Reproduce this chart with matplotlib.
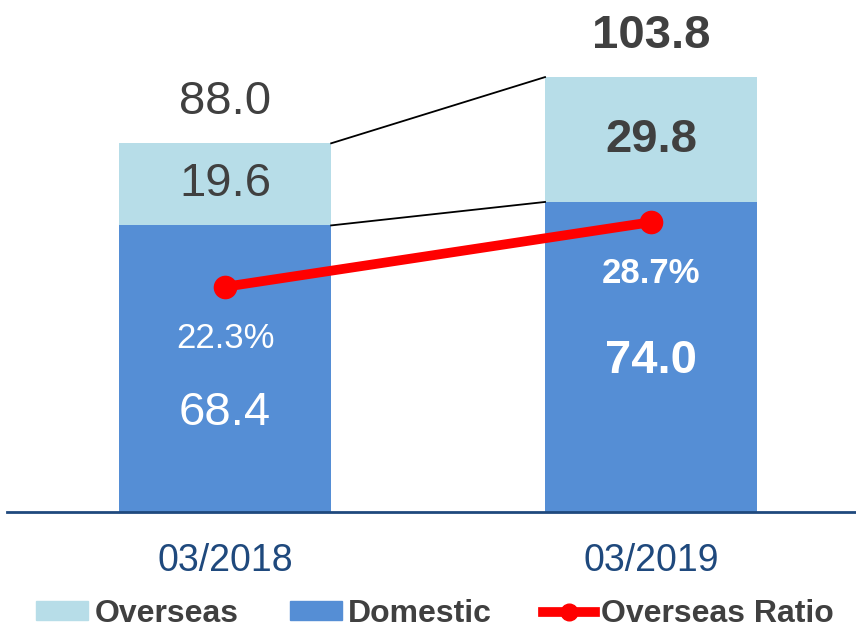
import matplotlib
matplotlib.use("Agg")
import matplotlib.pyplot as plt
from matplotlib.lines import Line2D
from matplotlib.patches import Patch

plt.rcParams['font.family'] = ['Liberation Sans', 'DejaVu Sans']

categories = ["03/2018", "03/2019"]
domestic = [68.4, 74.0]
overseas = [19.6, 29.8]
totals = [88.0, 103.8]
ratio = [22.3, 28.7]

C_OVER = "#B7DDE8"
C_DOM = "#558ED5"
C_RED = "#FF0000"
C_TXT = "#404040"
C_AX = "#1F497D"

fig = plt.figure(figsize=(8.56, 6.3), dpi=100)
ax = fig.add_axes([7/856, 118/630, 849/856, 512/630])
x = list(range(len(categories)))
w = 0.498
ax.bar(x, domestic, width=w, color=C_DOM, zorder=2)
ax.bar(x, overseas, width=w, bottom=domestic, color=C_OVER, zorder=2)
ax.set_xlim(-0.512, 1.481)
ax.set_ylim(0, 122.2)

# connector lines
ax.plot([x[0] + w/2, x[1] - w/2], [totals[0], totals[1]], color="black", lw=1.3, zorder=3)
ax.plot([x[0] + w/2, x[1] - w/2], [domestic[0], domestic[1]], color="black", lw=1.3, zorder=3)

for s in ["top", "right", "left"]:
    ax.spines[s].set_visible(False)
ax.spines["bottom"].set_color(C_AX)
ax.spines["bottom"].set_linewidth(2)
ax.set_yticks([])
ax.set_xticks(x)
ax.set_xticklabels(categories, fontsize=27, color=C_AX)
ax.tick_params(axis="x", length=0, pad=22)

# labels
bold = [False, True]
dom_label_y = [23.6, 36.0]
for i in x:
    fw = "bold" if bold[i] else "normal"
    ax.text(i, totals[i] + 9.8, f"{totals[i]:.1f}", ha="center", va="center",
            fontsize=34, color=C_TXT, fontweight=fw, zorder=5)
    ax.text(i, domestic[i] + overseas[i] / 2, f"{overseas[i]:.1f}", ha="center", va="center",
            fontsize=34, color=C_TXT, fontweight=fw, zorder=5)
    ax.text(i, dom_label_y[i], f"{domestic[i]:.1f}", ha="center", va="center",
            fontsize=34, color="white", fontweight=fw, zorder=5)

ax2 = ax.twinx()
ax2.set_ylim(0, 50.7)
ax2.set_yticks([])
for s in ax2.spines.values():
    s.set_visible(False)
ax2.plot(x, ratio, color=C_RED, lw=7, marker="o", markersize=16, zorder=6)
for i in x:
    fw = "bold" if bold[i] else "normal"
    ax2.annotate(f"{ratio[i]:.1f}%", (i, ratio[i]), xytext=(0, -37), textcoords="offset points",
                 ha="center", va="center", fontsize=25, color="white", fontweight=fw, zorder=7)

handles = [Patch(color=C_OVER), Patch(color=C_DOM),
           Line2D([0], [0], color=C_RED, lw=7, marker="o", markersize=12)]
labels = ["Overseas", "Domestic", "Overseas Ratio"]
leg = fig.legend(handles, labels, loc="center left", bbox_to_anchor=(36/856, 16/630), ncol=3,
                 frameon=False, handlelength=1.63, handleheight=0.55, handletextpad=0.2,
                 columnspacing=1.6, borderaxespad=0.0, borderpad=0.0,
                 prop={"size": 23, "weight": "bold"})
for t in leg.get_texts():
    t.set_color(C_TXT)

fig.savefig("out.png", dpi=100)
